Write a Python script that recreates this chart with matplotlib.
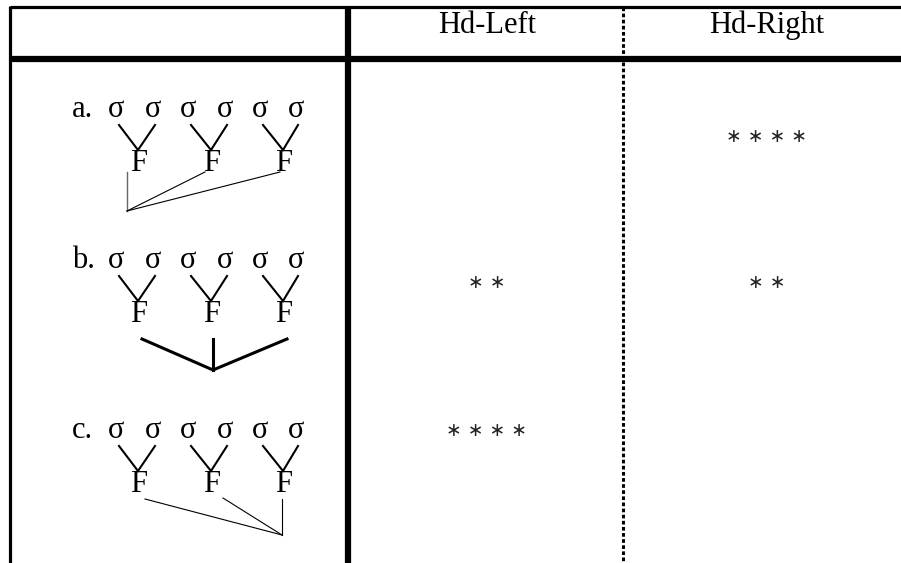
import matplotlib.pyplot as plt

# table content
col_headers = ['Hd-Left', 'Hd-Right']
row_labels = ['a.', 'b.', 'c.']
left_stars = [0, 2, 4]
right_stars = [4, 2, 0]
# which foot heads the word: left / middle (bracket) / right
head_type = ['left', 'middle', 'right']

plt.rcParams['font.family'] = ['Liberation Serif', 'DejaVu Serif']

fig = plt.figure(figsize=(9.01, 5.63), dpi=100)
ax = fig.add_axes([0, 0, 1, 1])
ax.set_xlim(0, 901)
ax.set_ylim(563, 0)
ax.axis('off')

# grid lines
ax.plot([10, 901], [7, 7], color='black', lw=2.3, solid_capstyle='butt')
ax.plot([10, 901], [59, 59], color='black', lw=4.5, solid_capstyle='butt')
ax.plot([10, 10], [6, 563], color='black', lw=2.3, solid_capstyle='butt')
ax.plot([348, 348], [6, 563], color='black', lw=4.5, solid_capstyle='butt')
ax.plot([623, 623], [7, 563], color='black', lw=2.2, linestyle=(0, (1.2, 0.8)))

col_x = [487, 767]
for x, h in zip(col_x, col_headers):
    ax.text(x, 33, h, ha='center', va='baseline', fontsize=22)

sig_base = [117, 268, 438]
sig_x = [116, 153, 188, 225, 260, 296]
foot_x = [139, 212, 284]


def stars(n):
    return ' '.join(['\u2217'] * n)


for i, y in enumerate(sig_base):
    ax.text(72, y, row_labels[i], ha='left', va='baseline', fontsize=22)
    for sx in sig_x:
        ax.text(sx, y, '\u03c3', ha='center', va='baseline', fontsize=22)
    fb = y + 54
    for k, fx in enumerate(foot_x):
        ax.text(fx, fb, 'F', ha='center', va='baseline', fontsize=22)
        s1, s2 = sig_x[2 * k], sig_x[2 * k + 1]
        ax.plot([s1 + 3, fx - 1], [y + 8, fb - 21], color='black', lw=1.5)
        ax.plot([s2 + 2, fx - 1], [y + 8, fb - 21], color='black', lw=1.5)

    if head_type[i] == 'left':
        bx, by = 127, fb + 40
        ax.plot([bx, bx], [fb + 1, by], color='#666666', lw=1)
        ax.plot([205, bx], [fb + 1, by], color='black', lw=0.8)
        ax.plot([280, bx], [fb + 1, by], color='black', lw=0.8)
    elif head_type[i] == 'middle':
        bx, by = 213, fb + 48
        ax.plot([142, bx, 287], [fb + 17, by, fb + 17], color='black', lw=2.2)
        ax.plot([bx, bx], [fb + 17, by], color='black', lw=2.2)
    else:
        bx, by = 282, fb + 43
        ax.plot([bx, bx], [fb + 7, by], color='black', lw=0.8)
        ax.plot([145, bx], [fb + 7, by], color='black', lw=0.8)
        ax.plot([223, bx], [fb + 6, by], color='black', lw=0.8)

star_y = [137, 283, 430]
for i, y in enumerate(star_y):
    if left_stars[i]:
        ax.text(col_x[0], y, stars(left_stars[i]), ha='center', va='center',
                fontsize=13.5, family='DejaVu Sans', color='#222222')
    if right_stars[i]:
        ax.text(col_x[1], y, stars(right_stars[i]), ha='center', va='center',
                fontsize=13.5, family='DejaVu Sans', color='#222222')

fig.savefig('out.png', dpi=100)
